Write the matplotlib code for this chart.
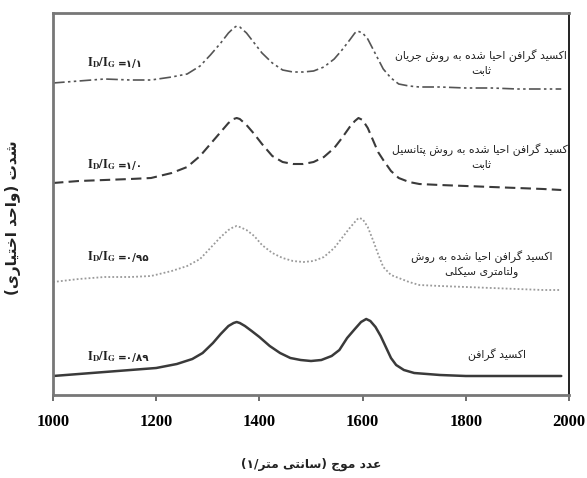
import matplotlib
matplotlib.use("Agg")
import matplotlib.pyplot as plt

# ---------------- data ----------------
wn_go = [1000, 1050, 1100, 1150, 1200, 1240, 1270, 1290, 1310, 1325, 1340, 1350, 1356, 1362, 1372,
         1385, 1400, 1420, 1440, 1460, 1480, 1500, 1520, 1540, 1555, 1570, 1585, 1597, 1607, 1615,
         1625, 1635, 1645, 1655, 1665, 1680, 1700, 1750, 1800, 1850, 1900, 1950, 1985]
int_go = [19, 21, 23, 25, 27, 31, 36, 42, 52, 61, 69, 72, 73, 72, 69,
          64, 58, 49, 42, 37, 35, 34, 35, 39, 45, 57, 66, 73, 76, 74,
          68, 59, 48, 37, 30, 25, 22, 20, 19, 19, 19, 19, 19]

wn_rgo = [1000, 1050, 1100, 1150, 1190, 1230, 1260, 1285, 1305, 1325, 1340, 1350, 1356, 1362, 1375,
          1390, 1405, 1425, 1445, 1465, 1485, 1505, 1525, 1545, 1560, 1575, 1585, 1592, 1600, 1610,
          1620, 1630, 1640, 1655, 1670, 1690, 1710, 1750, 1800, 1850, 1900, 1950, 1985]
int_cv = [113, 116, 118, 118, 119, 124, 129, 136, 147, 158, 165, 168, 169, 168, 165,
          159, 150, 142, 137, 134, 133, 134, 138, 147, 157, 167, 173, 177, 176, 168,
          155, 141, 128, 120, 117, 113, 110, 109, 108, 107, 106, 105, 105]
int_cp = [212, 214, 215, 216, 217, 222, 228, 239, 251, 263, 272, 276, 277, 276, 270,
          261, 251, 239, 233, 231, 231, 233, 238, 247, 257, 268, 274, 277, 275, 267,
          255, 243, 235, 224, 217, 213, 211, 210, 209, 208, 207, 206, 205]

wn_cc = [1000, 1050, 1100, 1150, 1190, 1230, 1260, 1285, 1305, 1325, 1340, 1350, 1356, 1362, 1375,
         1390, 1405, 1425, 1445, 1465, 1485, 1505, 1525, 1545, 1560, 1575, 1585, 1590, 1600, 1610,
         1620, 1630, 1640, 1655, 1670, 1690, 1710, 1750, 1800, 1850, 1900, 1950, 1985]
int_cc = [312, 314, 316, 315, 315, 318, 321, 329, 340, 352, 362, 367, 369, 368, 362,
          352, 342, 332, 325, 323, 323, 324, 328, 336, 345, 355, 362, 364, 362, 356,
          346, 336, 326, 317, 311, 309, 308, 308, 307, 307, 306, 306, 306]

ratio_labels = ["۱/۱", "۱/۰", "۰/۹۵", "۰/۸۹"]
sample_labels = [
    "اکسید گرافن احیا شده به روش جریان\nثابت",
    "اکسید گرافن احیا شده به روش پتانسیل\nثابت",
    "اکسید گرافن احیا شده به روش\nولتامتری سیکلی",
    "اکسید گرافن",
]
x_ticks = [1000, 1200, 1400, 1600, 1800, 2000]
x_label = "عدد موج (سانتی متر/۱)"
y_label = "شدت (واحد اختیاری)"

# ---------------- minimal Arabic-script shaping (presentation forms) ----------------
# (isolated, final, initial, medial); None = letter does not join to the next one
FORMS = {
    'ا': ('\uFE8D', '\uFE8E', None, None),
    'آ': ('\uFE81', '\uFE82', None, None),
    'ب': ('\uFE8F', '\uFE90', '\uFE91', '\uFE92'),
    'پ': ('\uFB56', '\uFB57', '\uFB58', '\uFB59'),
    'ت': ('\uFE95', '\uFE96', '\uFE97', '\uFE98'),
    'ث': ('\uFE99', '\uFE9A', '\uFE9B', '\uFE9C'),
    'ج': ('\uFE9D', '\uFE9E', '\uFE9F', '\uFEA0'),
    'ح': ('\uFEA1', '\uFEA2', '\uFEA3', '\uFEA4'),
    'خ': ('\uFEA5', '\uFEA6', '\uFEA7', '\uFEA8'),
    'د': ('\uFEA9', '\uFEAA', None, None),
    'ذ': ('\uFEAB', '\uFEAC', None, None),
    'ر': ('\uFEAD', '\uFEAE', None, None),
    'ز': ('\uFEAF', '\uFEB0', None, None),
    'س': ('\uFEB1', '\uFEB2', '\uFEB3', '\uFEB4'),
    'ش': ('\uFEB5', '\uFEB6', '\uFEB7', '\uFEB8'),
    'ع': ('\uFEC9', '\uFECA', '\uFECB', '\uFECC'),
    'ف': ('\uFED1', '\uFED2', '\uFED3', '\uFED4'),
    'ک': ('\uFB8E', '\uFB8F', '\uFB90', '\uFB91'),
    'گ': ('\uFB92', '\uFB93', '\uFB94', '\uFB95'),
    'ل': ('\uFEDD', '\uFEDE', '\uFEDF', '\uFEE0'),
    'م': ('\uFEE1', '\uFEE2', '\uFEE3', '\uFEE4'),
    'ن': ('\uFEE5', '\uFEE6', '\uFEE7', '\uFEE8'),
    'ه': ('\uFEE9', '\uFEEA', '\uFEEB', '\uFEEC'),
    'و': ('\uFEED', '\uFEEE', None, None),
    'ی': ('\uFBFC', '\uFBFD', '\uFBFE', '\uFBFF'),
}
MIRROR = {'(': ')', ')': '('}


def shape_line(s):
    out = []
    n = len(s)
    for i, c in enumerate(s):
        if c not in FORMS:
            out.append(c)
            continue
        f = FORMS[c]
        prev_joins = i > 0 and s[i - 1] in FORMS and FORMS[s[i - 1]][2] is not None
        next_joins = i < n - 1 and s[i + 1] in FORMS and f[2] is not None
        if prev_joins and next_joins:
            out.append(f[3])
        elif prev_joins:
            out.append(f[1])
        elif next_joins:
            out.append(f[2])
        else:
            out.append(f[0])
    return ''.join(MIRROR.get(ch, ch) for ch in reversed(out))


def rtl(s):
    return '\n'.join(shape_line(l) for l in s.split('\n'))


# ---------------- figure ----------------
plt.rcParams['mathtext.fontset'] = 'stix'
fa_font = ['DejaVu Sans']
num_font = ['Liberation Serif', 'DejaVu Sans']

fig = plt.figure(figsize=(5.87, 4.78), dpi=100)
ax = fig.add_axes([53 / 587, 83 / 478, 516 / 587, 382 / 478])

ax.plot(wn_go, int_go, color='#3a3a3a', lw=1.8, solid_capstyle='round')
ax.plot(wn_rgo, int_cv, color='#9a9a9a', lw=1.3, linestyle=(0, (1, 1.2)))
ax.plot(wn_rgo, int_cp, color='#3a3a3a', lw=1.5, linestyle=(0, (5, 2.5)))
ax.plot(wn_cc, int_cc, color='#555555', lw=1.2, linestyle=(0, (7, 2, 1.5, 2, 1.5, 2)))

ax.set_xlim(1000, 2000)
ax.set_ylim(0, 382)
ax.set_xticks(x_ticks)
ax.set_xticklabels([str(t) for t in x_ticks], family=num_font, fontweight='bold', fontsize=12)
ax.set_yticks([])
ax.tick_params(axis='x', direction='out', length=4, width=1.2, color='#555555', pad=10)

for side in ['left', 'top', 'bottom']:
    ax.spines[side].set_color('#777777')
    ax.spines[side].set_linewidth(2.0)
ax.spines['right'].set_color('#222222')
ax.spines['right'].set_linewidth(1.4)

# I_D/I_G labels
ratio_y = [332, 230, 138, 38]
for lab, yy in zip(ratio_labels, ratio_y):
    t = ax.text(1066, yy, r'$\mathbf{I_D/I_G}$', fontsize=9, ha='left', va='center',
                color='#222222')
    ax.annotate('=' + lab, xy=(1.0, 0.42), xycoords=t, xytext=(1, 0), textcoords='offset points',
                family=['DejaVu Sans'], fontweight='bold', fontsize=7.5, ha='left',
                va='center', color='#222222')

# sample labels
sample_pos = [(1830, 333), (1830, 239), (1830, 131), (1860, 40)]
for lab, (xx, yy) in zip(sample_labels, sample_pos):
    ax.text(xx, yy, rtl(lab), family=fa_font, fontsize=7.8, ha='center', va='center',
            color='#222222', linespacing=1.45)

fig.text((53 + 569) / 2 / 587, 1 - 464 / 478, rtl(x_label), family=fa_font, fontsize=8.8,
         fontweight='bold', ha='center', va='center', color='#222222')
fig.text(13 / 587, 1 - 218 / 478, rtl(y_label), family=fa_font, fontsize=11,
         fontweight='bold', ha='center', va='center', rotation=90, color='#222222')

fig.savefig('out.png', dpi=100)
